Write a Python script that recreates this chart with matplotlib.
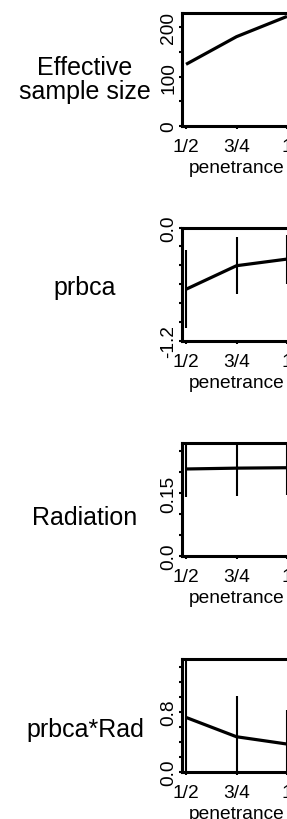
import numpy as np
import matplotlib
matplotlib.use("Agg")
from matplotlib import pyplot as plt

plt.rcParams["font.family"] = ["Liberation Sans", "DejaVu Sans"]

# data
penetrance = [0.5, 0.75, 1.0]
pen_labels = ["1/2", "3/4", "1"]

row_names = ["Effective\nsample size", "prbca", "Radiation", "prbca*Rad"]

ess = [125, 181, 222]

prbca_est = [-0.653, -0.404, -0.334]
prbca_lo = [-1.06, -0.70, -0.596]
prbca_hi = [-0.238, -0.103, -0.079]

rad_est = [0.207, 0.209, 0.210]
rad_lo = [0.140, 0.143, 0.146]
rad_hi = [0.266, 0.275, 0.28]

inter_est = [0.726, 0.469, 0.372]
inter_lo = [-0.2, -0.1, -0.1]
inter_hi = [1.6, 1.005, 0.83]

# y axis set-up per panel (ticks, labels, limits)
y_ticks = [
    [0, 50, 100, 150, 200],
    [-1.2, -1.0, -0.8, -0.6, -0.4, -0.2, 0.0],
    [0.0, 0.05, 0.10, 0.15, 0.20, 0.25],
    [0.0, 0.2, 0.4, 0.6, 0.8, 1.0, 1.2, 1.4],
]
y_ticklabels = [
    ["0", "", "100", "", "200"],
    ["-1.2", "", "", "", "", "", "0.0"],
    ["0.0", "", "", "0.15", "", ""],
    ["0.0", "", "", "", "0.8", "", "", ""],
]
y_lims = [(0, 230), (-1.2, 0.0), (0, 0.27), (0, 1.51)]

estimates = [ess, prbca_est, rad_est, inter_est]
lowers = [None, prbca_lo, rad_lo, inter_lo]
uppers = [None, prbca_hi, rad_hi, inter_hi]

W, H = 287, 820
fig = plt.figure(figsize=(W / 100, H / 100), dpi=100)

ax_bottoms = [127, 342, 557, 773]   # pixel rows from top
text_y = [80.0, 288.4, 518.4, 730.0]

for i in range(4):
    ax = fig.add_axes([182 / W, 1 - ax_bottoms[i] / H, 109 / W, 113.5 / H])
    ax.plot(penetrance, estimates[i], color="black", lw=2.3, solid_capstyle="butt")
    if lowers[i] is not None:
        ax.vlines(penetrance, lowers[i], uppers[i], color="black", lw=1.5)
    ax.set_xlim(0.48, 1.02)
    ax.set_ylim(*y_lims[i])
    ax.set_xticks(penetrance)
    ax.set_xticklabels(pen_labels)
    ax.set_yticks(y_ticks[i])
    ax.set_yticklabels(y_ticklabels[i], rotation=90, va="center")
    ax.set_xlabel("penetrance", fontsize=13.8, labelpad=2.5)
    ax.tick_params(axis="both", direction="out", length=2.5, width=1.5,
                   labelsize=13.8, color="black")
    ax.tick_params(axis="x", pad=6.5)
    ax.tick_params(axis="y", pad=1)
    for sp in ax.spines.values():
        sp.set_linewidth(2.2)
    fig.text(85 / W, 1 - text_y[i] / H, row_names[i], ha="center", va="center",
             fontsize=18, linespacing=0.95)

fig.savefig("out.png", dpi=100)
